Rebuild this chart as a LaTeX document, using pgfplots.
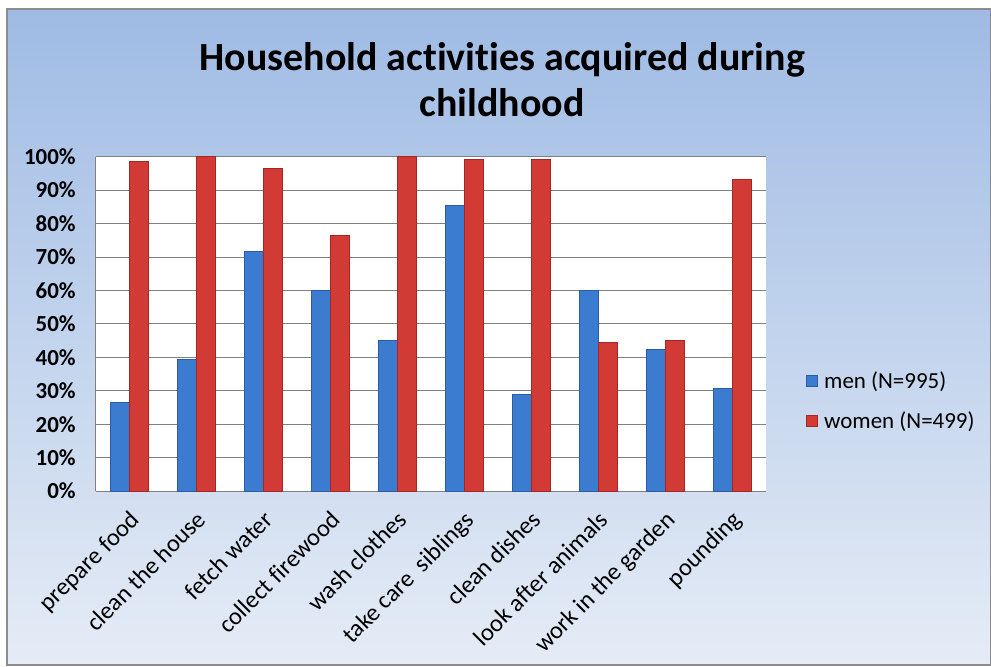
\documentclass[border=0pt]{standalone}
\usepackage{pgfplots}
\pgfplotsset{compat=1.18}
\usepackage{fontspec}
\setmainfont{Carlito}[Ligatures=NoCommon]
\definecolor{bgtop}{HTML}{9FBBE4}
\definecolor{bgbot}{HTML}{E5ECF6}
\definecolor{bF}{HTML}{3B7BD0}
\definecolor{bD}{HTML}{2A5CA8}
\definecolor{rF}{HTML}{D23A35}
\definecolor{rD}{HTML}{A52723}
\begin{document}
\begin{tikzpicture}[x=1pt,y=1pt]
\fill[white] (0,0) rectangle (991,668);
\shadedraw[top color=bgtop, bottom color=bgbot, draw=black!45, line width=1.5pt] (7,2) rectangle (992,659);
\node[font=\bfseries\fontsize{40}{46}\selectfont, align=center] at (503,588) {Household activities acquired during\\childhood};
\begin{axis}[
  at={(96pt,176pt)}, anchor=south west,
  width=671pt, height=335pt, scale only axis,
  ybar=0pt, bar width=19pt,
  xmin=-0.5, xmax=9.5, ymin=0, ymax=100,
  xtick={0,...,9},
  xticklabels={prepare food, clean the house, fetch water, collect firewood, wash clothes, take care\ \ siblings, clean dishes, look after animals, work in the garden, pounding},
  ytick={0,10,...,100},
  yticklabel={\pgfmathprintnumber{\tick}\%},
  /pgf/number format/assume math mode=true,
  ymajorgrids,
  grid style={black!50, line width=1pt},
  axis x line*=bottom, axis y line*=left,
  axis line style={black!50, line width=1pt, -},
  major tick length=0pt,
  axis background/.style={fill=white},
  yticklabel style={font=\bfseries\fontsize{23}{23}\selectfont, anchor=east, inner sep=0pt, xshift=-20pt},
  xticklabel style={font=\fontsize{24.5}{24.5}\selectfont, xshift=-1pt, yshift=-18pt, rotate=45, anchor=north east, inner sep=0pt},
  legend cell align=left,
  legend style={at={(1.055,0.269)}, anchor=west, draw=none, fill=none,
    font=\fontsize{23}{23}\selectfont, row sep=18pt},
  legend image code/.code={\path[draw=none,fill=none] (0pt,0pt) -- (16pt,0pt); \path[#1] (0pt,-5.5pt) rectangle (11pt,5.5pt);},
]
\addplot[fill=bF, draw=bD, line width=1pt] coordinates {
(0,26.4) (1,39.4) (2,71.8) (3,60.1) (4,44.9) (5,85.4) (6,28.9) (7,60.1) (8,42.4) (9,30.6)};
\addplot[fill=rF, draw=rD, line width=1pt] coordinates {
(0,98.7) (1,100) (2,96.5) (3,76.5) (4,100) (5,99.2) (6,99.2) (7,44.4) (8,44.9) (9,93.2)};
\legend{men (N=995), women (N=499)}
\end{axis}
\end{tikzpicture}
\end{document}
